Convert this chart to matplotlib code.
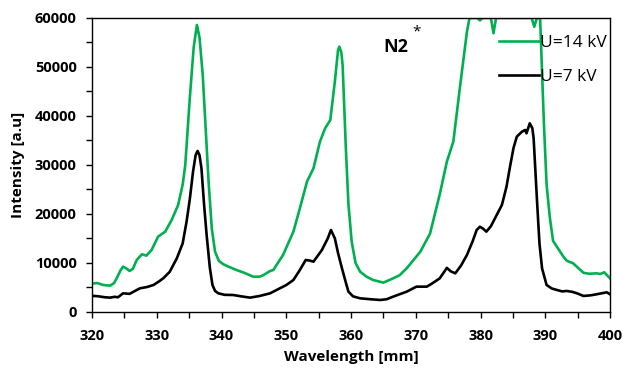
import matplotlib
matplotlib.use("Agg")
import matplotlib.pyplot as plt
from matplotlib.ticker import MultipleLocator

# Espectro a U=14 kV (saturado arriba de 60000)
wl_14 = [320.0, 320.8, 321.8, 322.8, 323.4, 323.8, 324.4, 324.8, 325.3, 325.8,
         326.3, 326.9, 327.7, 328.4, 329.2, 330.2, 331.3, 332.3, 333.3, 334.0,
         334.4, 335.1, 335.7, 336.2, 336.6, 337.1, 338.0, 338.5, 339.0, 339.6,
         340.3, 341.0, 342.3, 343.5, 344.9, 345.9, 346.5, 347.5, 348.0, 349.5,
         351.1, 352.1, 353.2, 354.2, 355.2, 356.0, 356.8, 357.5, 358.0, 358.2,
         358.5, 358.7, 359.2, 359.6, 360.1, 360.7, 361.4, 362.4, 363.4, 365.0,
         366.5, 367.5, 368.6, 370.7, 372.2, 373.7, 374.8, 375.8, 376.8, 377.9,
         378.3, 379.5, 379.9, 380.3, 381.6, 382.0, 382.4, 387.9, 388.3, 388.7,
         389.2, 389.8, 390.2, 390.7, 391.2, 391.8, 392.8, 393.3, 394.3, 395.9,
         396.8, 397.9, 398.5, 399.1, 400.0]
int_14 = [5800, 5900, 5500, 5370, 5900, 6870, 8500, 9250, 8900, 8370,
          8800, 10600, 11770, 11500, 12650, 15370, 16390, 18770, 21840, 26000,
          30000, 43600, 54000, 58570, 56000, 48370, 26600, 17000, 12300, 10400,
          9730, 9300, 8570, 8000, 7210, 7210, 7550, 8370, 8570, 11630,
          16390, 21160, 26600, 29330, 34760, 37480, 39180, 47000, 53500, 54150,
          53000, 50400, 33400, 22000, 14350, 10000, 8230, 7200, 6530, 5990,
          6870, 7500, 8910, 12300, 16000, 24000, 30680, 34760, 45650, 57200,
          60000, 60000, 59500, 60000, 60000, 56880, 60000, 60000, 58200, 60000,
          60000, 38000, 26000, 19300, 14500, 13300, 11290, 10470, 9930, 8000,
          7800, 7890, 7760, 8100, 6870]

# Espectro a U=7 kV
wl_7 = [320.0, 321.0, 322.0, 322.8, 323.5, 324.0, 324.8, 325.8, 326.5, 327.4,
        328.5, 329.5, 330.3, 331.0, 332.0, 333.1, 334.0, 334.6, 335.1, 335.6,
        336.0, 336.3, 336.6, 336.9, 337.3, 337.7, 338.2, 338.6, 339.0, 339.5,
        340.5, 341.8, 343.0, 344.4, 345.9, 347.5, 348.5, 350.0, 351.1, 352.1,
        353.0, 353.6, 354.2, 355.5, 356.4, 356.9, 357.5, 358.0, 358.6, 359.2,
        359.6, 360.3, 361.4, 363.0, 364.5, 365.5, 366.5, 368.6, 370.1, 371.7,
        372.5, 373.7, 374.8, 375.4, 376.1, 377.0, 377.9, 378.8, 379.4, 379.9,
        380.4, 380.9, 381.6, 382.5, 383.3, 384.0, 384.6, 385.1, 385.6, 386.4,
        386.9, 387.1, 387.6, 388.0, 388.2, 388.7, 389.1, 389.5, 390.2, 391.0,
        391.8, 392.6, 393.3, 394.2, 394.9, 395.9, 397.0, 397.9, 399.5, 400.0]
int_7 = [3300, 3200, 3000, 2930, 3100, 3000, 3810, 3700, 4200, 4830,
         5100, 5510, 6200, 6870, 8200, 10960, 14000, 18430, 23000, 28630,
         32000, 32860, 32000, 29330, 22000, 15710, 9000, 5510, 4300, 3810,
         3500, 3470, 3200, 2930, 3270, 3810, 4490, 5500, 6530, 8570,
         10610, 10500, 10270, 12650, 15000, 16730, 15030, 12000, 8910, 6000,
         4150, 3200, 2790, 2600, 2450, 2600, 3130, 4150, 5170, 5170,
         5800, 6870, 9000, 8300, 7890, 9500, 11630, 14500, 16730, 17400,
         17000, 16390, 17500, 19800, 21840, 25500, 30000, 33500, 35780, 36800,
         37140, 36460, 38500, 37500, 35440, 23200, 14000, 8910, 5510, 4800,
         4490, 4200, 4290, 4100, 3810, 3270, 3400, 3610, 4020, 3610]

plt.rcParams['font.family'] = ['Open Sans', 'DejaVu Sans']

fig = plt.figure(figsize=(6.23, 3.68), dpi=100)
ax = fig.add_axes([0.1477, 0.1522, 0.8315, 0.799])

ax.plot(wl_14, int_14, color='#00B050', lw=1.9, label='U=14 kV')
ax.plot(wl_7, int_7, color='black', lw=1.9, label='U=7 kV')

ax.set_xlim(320, 400)
ax.set_ylim(0, 60000)
ax.xaxis.set_major_locator(MultipleLocator(10))
ax.xaxis.set_minor_locator(MultipleLocator(5))
ax.yaxis.set_major_locator(MultipleLocator(10000))
ax.yaxis.set_minor_locator(MultipleLocator(5000))
ax.tick_params(which='both', direction='out', length=4, width=1, labelsize=10.5)
ax.tick_params(axis='x', pad=8)
ax.tick_params(axis='y', pad=7)
for lab in ax.get_xticklabels() + ax.get_yticklabels():
    lab.set_fontweight('bold')
for sp in ax.spines.values():
    sp.set_linewidth(1)

ax.set_xlabel('Wavelength [mm]', fontsize=11, fontweight='bold', labelpad=5)
ax.set_ylabel('Intensity [a.u]', fontsize=11, fontweight='bold', labelpad=7)

# etiqueta N2* en coordenadas de pixel (origen abajo)
ax.text(383, 321, 'N2', transform=None, fontsize=13, fontweight='bold',
        va='center', ha='left')
ax.text(417, 336, '*', transform=None, fontsize=11, va='center', ha='center')

ax.legend(loc='upper left', bbox_to_anchor=(0.772, 0.965), frameon=False,
          handlelength=2.3, handletextpad=0.05, labelspacing=1.0, fontsize=12.5,
          borderaxespad=0)

fig.savefig('out.png', dpi=100)
